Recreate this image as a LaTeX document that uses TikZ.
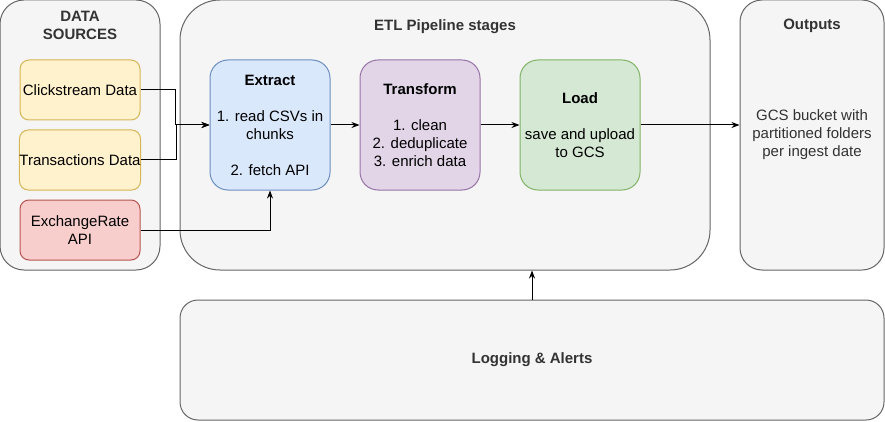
\documentclass[tikz,border=0pt]{standalone}
\usepackage{fontspec}
\setmainfont{Liberation Sans}
\usetikzlibrary{arrows.meta}

\definecolor{groupfill}{HTML}{F5F5F5}
\definecolor{groupline}{HTML}{666666}
\definecolor{grouptext}{HTML}{333333}
\definecolor{srcfill}{HTML}{FFF2CC}
\definecolor{srcline}{HTML}{D6B656}
\definecolor{apifill}{HTML}{F8CECC}
\definecolor{apiline}{HTML}{B85450}
\definecolor{extfill}{HTML}{DAE8FC}
\definecolor{extline}{HTML}{6C8EBF}
\definecolor{trnfill}{HTML}{E1D5E7}
\definecolor{trnline}{HTML}{9673A6}
\definecolor{ldfill}{HTML}{D5E8D4}
\definecolor{ldline}{HTML}{82B366}

\begin{document}
\begin{tikzpicture}[x=1pt,y=-1pt,
  every node/.style={font=\fontsize{15}{18}\selectfont,align=center,inner sep=0pt},
  group/.style={draw=groupline,fill=groupfill,text=grouptext,line width=1pt,rounded corners=#1},
  title/.style={anchor=north,text=grouptext,font=\fontsize{15}{18}\selectfont\bfseries},
  source/.style={draw=srcline,fill=srcfill,line width=1pt,rounded corners=9pt,
    minimum width=120pt,minimum height=60pt},
  stage/.style={line width=1pt,rounded corners=18pt,minimum width=120pt,minimum height=130pt},
  flow/.style={-{Stealth[length=8pt,width=6pt,inset=2.5pt]},line width=1pt}]
\useasboundingbox (0,0) rectangle (885,422);

% containers
\node[group=24pt,minimum width=160pt,minimum height=270pt,
  label={[title,yshift=-11.5pt]north:DATA\\SOURCES}] (sources) at (80,135) {};
\node[group=40pt,minimum width=530pt,minimum height=270pt,
  label={[title,yshift=-19.5pt]north:ETL Pipeline stages}] (etl) at (445,135) {};
\node[group=22pt,minimum width=144pt,minimum height=270pt,
  label={[title,yshift=-19.5pt]north:Outputs}] (outputs) at (812,135)
  {GCS bucket with\\partitioned folders\\per ingest date};
\node[group=18pt,minimum width=704pt,minimum height=120pt,font=\fontsize{15}{18}\selectfont\bfseries]
  (logging) at (532,360) {Logging \& Alerts};

% data sources
\node[source] (click) at (80,90) {Clickstream Data};
\node[source] (trans) at (80,160) {Transactions Data};
\node[source,draw=apiline,fill=apifill] (fxapi) at (80,230) {ExchangeRate\\API};

% stages
\node[stage,draw=extline,fill=extfill] (extract) at (270,125)
  {\textbf{Extract}\\[18pt]1. read CSVs in\\chunks\\[18pt]2. fetch API};
\node[stage,draw=trnline,fill=trnfill] (transform) at (420,125)
  {\textbf{Transform}\\[18pt]1. clean\\2. deduplicate\\3. enrich data};
\node[stage,draw=ldline,fill=ldfill] (load) at (580,125)
  {\textbf{Load}\\[18pt]save and upload\\to GCS};

% connectors
\draw[flow] (click.east) -- ++(35,0) |- (extract.west);
\draw[flow] (trans.east) -- ++(35,0) |- (extract.west);
\draw[flow] (fxapi.east) -| (extract.south);
\draw[flow] (extract) -- (transform);
\draw[flow] (transform) -- (load);
\draw[flow] (load.east) -- (outputs.west |- load.east);
\draw[flow] (logging.north) -- (logging.north |- etl.south);
\end{tikzpicture}
\end{document}
